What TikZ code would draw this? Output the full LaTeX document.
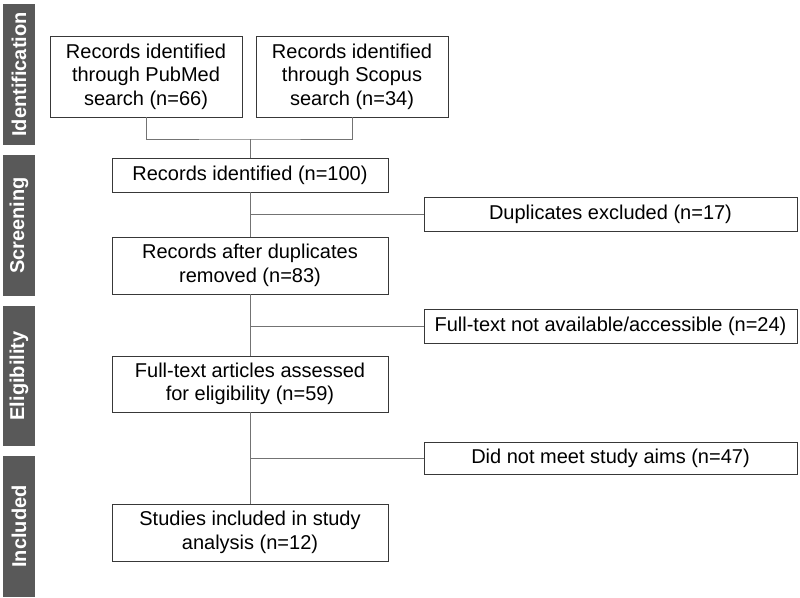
\documentclass[tikz,border=0pt]{standalone}
\usepackage{fontspec}
\setmainfont{Liberation Sans}
\usetikzlibrary{positioning}
\definecolor{bargray}{HTML}{595959}
\tikzset{
    box/.style={draw=black!78, line width=0.9pt, fill=white, align=center, inner sep=0pt,
        font=\fontsize{20}{23.5}\selectfont},
    bar/.style={fill=bargray, text=white, rotate=90, inner sep=0pt,
        minimum height=32pt, font=\fontsize{20}{24}\selectfont\bfseries},
    link/.style={draw=black!55, line width=0.8pt}
}

\begin{document}
\begin{tikzpicture}[x=1pt, y=-1pt]
    \useasboundingbox (0,0) rectangle (800,597);
    % phase bars
    \node[bar, minimum width=141pt] (pid) at (19, 74.5) {Identification};
    \node[bar, minimum width=141pt] (psc) at (19, 225.5) {Screening};
    \node[bar, minimum width=140pt] (pel) at (19, 376) {Eligibility};
    \node[bar, minimum width=141pt] (pin) at (19, 526.5) {Included};
    % main column
    \node[box, minimum width=192pt, minimum height=81pt] (pm) at (146, 76.5) {Records identified\\through PubMed\\search (n=66)};
    \node[box, minimum width=192pt, minimum height=81pt] (sc) at (352, 76.5) {Records identified\\through Scopus\\search (n=34)};
    \node[box, minimum width=276pt, minimum height=34pt] (ri) at (250, 175) {Records identified (n=100)};
    \node[box, minimum width=276pt, minimum height=57pt] (rd) at (250, 265.5) {Records after duplicates\\removed (n=83)};
    \node[box, minimum width=276pt, minimum height=56pt] (fa) at (250, 384) {Full-text articles assessed\\for eligibility (n=59)};
    \node[box, minimum width=276pt, minimum height=57pt] (si) at (250, 532.5) {Studies included in study\\analysis (n=12)};
    % exclusions
    \node[box, minimum width=373pt, minimum height=34pt] (dx) at (610.5, 214) {Duplicates excluded (n=17)};
    \node[box, minimum width=373pt, minimum height=34pt] (na) at (610.5, 326) {Full-text not available/accessible (n=24)};
    \node[box, minimum width=373pt, minimum height=32pt] (nm) at (610.5, 458) {Did not meet study aims (n=47)};
    % connectors
    \coordinate (j1) at (250, 139);
    \draw[link] (pm.south) |- (j1) -| (sc.south);
    \draw[link] (j1) -- (ri.north);
    \draw[link] (ri.south) -- (rd.north);
    \draw[link] (rd.south) -- (fa.north);
    \draw[link] (fa.south) -- (si.north);
    \draw[link] (ri.south |- dx.west) -- (dx.west);
    \draw[link] (rd.south |- na.west) -- (na.west);
    \draw[link] (fa.south |- nm.west) -- (nm.west);
\end{tikzpicture}
\end{document}
